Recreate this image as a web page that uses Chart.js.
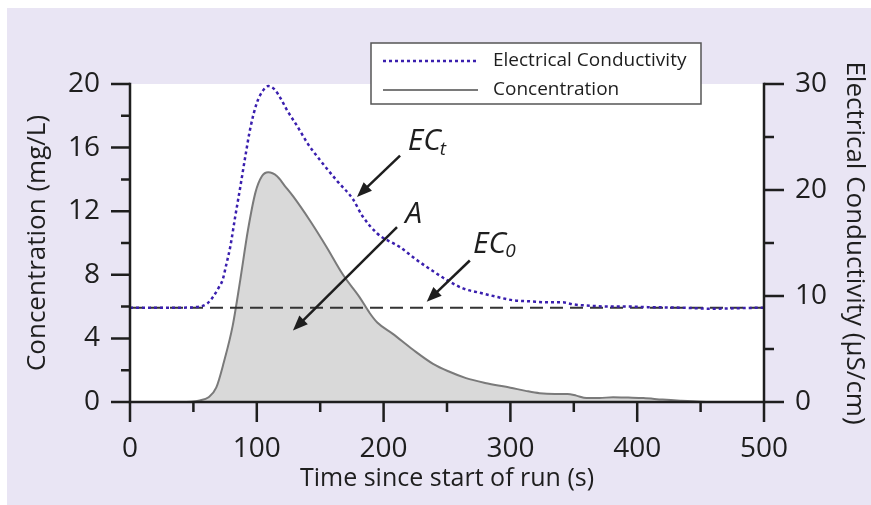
<!DOCTYPE html>
<html><head><meta charset="utf-8">
<script src="https://cdn.jsdelivr.net/npm/chart.js@4/dist/chart.umd.min.js"></script>
<style>html,body{margin:0;padding:0;background:#fff}canvas{display:block}</style>
</head><body>
<canvas id="c" width="871" height="505"></canvas>
<script>
// ---- data ----
const concTime   = [0, 40, 55, 62, 68, 74, 81, 87, 93, 99, 104, 109, 116, 122, 129, 142, 155, 168, 181, 189, 195, 207, 223, 239, 252, 265, 280, 300, 312, 323, 335, 345, 352, 360, 370, 381, 393, 405, 420, 434, 450, 470, 500];
const concValues = [0, 0, 0.1, 0.3, 0.9, 2.5, 4.8, 7.7, 10.8, 13.2, 14.2, 14.45, 14.2, 13.6, 12.9, 11.4, 9.75, 8.0, 6.6, 5.6, 5.0, 4.3, 3.3, 2.4, 1.9, 1.5, 1.2, 0.9, 0.7, 0.55, 0.5, 0.5, 0.4, 0.25, 0.25, 0.3, 0.28, 0.25, 0.15, 0.08, 0.02, 0, 0];
const ecTime   = [0, 40, 55, 61, 66, 70, 73, 76, 79, 83, 87, 91, 95, 100, 105, 109, 114, 119, 124, 132, 140, 150, 163, 176, 183, 195, 213, 225, 237, 250, 263, 276, 290, 302, 315, 330, 341, 350, 360, 380, 394, 408, 434, 460, 480, 500];
const ecValues = [8.9, 8.9, 9.0, 9.3, 10.0, 10.8, 11.5, 13.0, 14.6, 17.5, 20.3, 23.2, 25.9, 28.2, 29.4, 29.8, 29.5, 28.6, 27.5, 26.0, 24.4, 22.8, 20.9, 19.1, 17.6, 15.9, 14.6, 13.5, 12.5, 11.5, 10.7, 10.3, 9.9, 9.6, 9.5, 9.4, 9.4, 9.2, 9.1, 9.0, 9.0, 8.95, 8.9, 8.8, 8.85, 8.9];
const ecBaseline = 8.9;          // EC0, µS/cm
const baselineTime = [0, 500];

const concTickStep = 4,  concMinorStep = 2,  concMin = 0, concMax = 20;
const ecTickStep = 10,   ecMinorStep = 5,    ecMin = 0,   ecMax = 30;
const timeTickStep = 100, timeMinorStep = 50, timeMin = 0, timeMax = 500;

const seriesLabels = ['Electrical Conductivity', 'Concentration'];
const axisTitles = {x: 'Time since start of run (s)', y: 'Concentration (mg/L)', y1: 'Electrical Conductivity (µS/cm)'};

// annotation labels in data units (time, concentration axis)
const notes = [
  {text: 'EC', sub: 't', t: 219, c: 16.4, from: [213, 15.5], to: [179, 12.9]},
  {text: 'A',            t: 217, c: 11.8, from: [210.6, 11.0], to: [128.5, 4.5]},
  {text: 'EC', sub: '0', t: 270.5, c: 9.94, from: [268, 8.9], to: [234, 6.3]}
];

const FONT = '"Open Sans", "Noto Sans", sans-serif';
const INK = '#1e1e1e';
const EC_COLOR = '#3a1fae';
const CONC_LINE = '#7a7a7a';
const CONC_FILL = '#d9d9d9';
const BG = '#e9e5f4';

const toXY = (xs, ys) => xs.map((x, i) => ({x, y: ys[i]}));

const bgPlugin = {
  id: 'bg',
  beforeDraw(chart) {
    const {ctx, chartArea: ca, width, height} = chart;
    ctx.save();
    ctx.fillStyle = '#ffffff'; ctx.fillRect(0, 0, width, height);
    ctx.fillStyle = BG; ctx.fillRect(7, 8, width - 7, height - 8);
    ctx.fillStyle = '#ffffff'; ctx.fillRect(ca.left, ca.top, ca.right - ca.left, ca.bottom - ca.top);
    ctx.restore();
  }
};

function arrow(ctx, x1, y1, x2, y2) {
  const ang = Math.atan2(y2 - y1, x2 - x1);
  const hl = 15, hw = 6;
  const bx = x2 - hl * Math.cos(ang), by = y2 - hl * Math.sin(ang);
  ctx.beginPath(); ctx.moveTo(x1, y1); ctx.lineTo(bx + 2 * Math.cos(ang), by + 2 * Math.sin(ang)); ctx.stroke();
  ctx.beginPath();
  ctx.moveTo(x2, y2);
  ctx.lineTo(bx + hw * Math.sin(ang), by - hw * Math.cos(ang));
  ctx.lineTo(bx - hw * Math.sin(ang), by + hw * Math.cos(ang));
  ctx.closePath(); ctx.fill();
}

const decorPlugin = {
  id: 'decor',
  afterDatasetsDraw(chart) {
    const {ctx, chartArea: ca, scales: {x, y, y1}} = chart;
    ctx.save();
    ctx.strokeStyle = INK; ctx.fillStyle = INK; ctx.lineWidth = 2.5; ctx.lineCap = 'square';
    // axis lines
    ctx.beginPath();
    ctx.moveTo(ca.left, ca.top); ctx.lineTo(ca.left, ca.bottom); ctx.lineTo(ca.right, ca.bottom); ctx.lineTo(ca.right, ca.top);
    ctx.stroke();
    ctx.lineCap = 'butt';
    ctx.beginPath();
    for (let v = concMin; v <= concMax; v += concMinorStep) {
      const p = y.getPixelForValue(v), len = v % concTickStep === 0 ? 19 : 9;
      ctx.moveTo(ca.left, p); ctx.lineTo(ca.left - len, p);
    }
    for (let v = ecMin; v <= ecMax; v += ecMinorStep) {
      const p = y1.getPixelForValue(v), len = v % ecTickStep === 0 ? 20 : 10;
      ctx.moveTo(ca.right, p); ctx.lineTo(ca.right + len, p);
    }
    for (let v = timeMin; v <= timeMax; v += timeMinorStep) {
      const p = x.getPixelForValue(v), len = v % timeTickStep === 0 ? 20 : 10;
      ctx.moveTo(p, ca.bottom); ctx.lineTo(p, ca.bottom + len);
    }
    ctx.stroke();

    // annotations
    ctx.lineWidth = 2.5;
    notes.forEach(n => {
      const px = x.getPixelForValue(n.t), py = y.getPixelForValue(n.c);
      ctx.font = 'italic 30px ' + FONT;
      ctx.textBaseline = 'middle'; ctx.textAlign = 'left';
      ctx.fillText(n.text, px, py);
      if (n.sub) {
        const w = ctx.measureText(n.text).width;
        ctx.font = 'italic 19px ' + FONT;
        ctx.fillText(n.sub, px + w - 1, py + 8);
      }
      arrow(ctx, x.getPixelForValue(n.from[0]), y.getPixelForValue(n.from[1]),
                 x.getPixelForValue(n.to[0]), y.getPixelForValue(n.to[1]));
    });

    // legend box
    const lx = 371, ly = 43, lw = 330, lh = 61;
    ctx.fillStyle = '#ffffff'; ctx.fillRect(lx, ly, lw, lh);
    ctx.strokeStyle = '#555'; ctx.lineWidth = 1.5; ctx.strokeRect(lx, ly, lw, lh);
    const items = [chart.data.datasets[1], chart.data.datasets[0]];
    items.forEach((ds, i) => {
      const cy = ly + 18 + i * 29;
      ctx.save();
      ctx.strokeStyle = ds.borderColor; ctx.lineWidth = ds.borderWidth;
      ctx.setLineDash(ds.borderDash || []);
      ctx.beginPath(); ctx.moveTo(lx + 12, cy); ctx.lineTo(lx + 107, cy); ctx.stroke();
      ctx.restore();
      ctx.fillStyle = INK; ctx.font = '19px ' + FONT; ctx.textBaseline = 'middle'; ctx.textAlign = 'left';
      ctx.fillText(ds.label, lx + 122, cy);
    });
    ctx.restore();
  }
};

new Chart(document.getElementById('c'), {
  type: 'line',
  data: {
    datasets: [
      {label: seriesLabels[1], data: toXY(concTime, concValues), yAxisID: 'y', borderColor: CONC_LINE, borderWidth: 2,
       backgroundColor: CONC_FILL, fill: 'origin', pointRadius: 0, cubicInterpolationMode: 'monotone', order: 3},
      {label: seriesLabels[0], data: toXY(ecTime, ecValues), yAxisID: 'y1', borderColor: EC_COLOR, borderWidth: 2.5,
       borderDash: [3, 3], fill: false, pointRadius: 0, cubicInterpolationMode: 'monotone', order: 1},
      {label: 'EC0', data: toXY(baselineTime, baselineTime.map(() => ecBaseline)), yAxisID: 'y1', borderColor: '#333',
       borderWidth: 2, borderDash: [13, 7], fill: false, pointRadius: 0, order: 2}
    ]
  },
  options: {
    responsive: false, animation: false, devicePixelRatio: 1,
    layout: {padding: {top: 84, left: 0, right: 0, bottom: 0}},
    plugins: {legend: {display: false}, tooltip: {enabled: false}},
    scales: {
      x: {type: 'linear', position: 'bottom', min: timeMin, max: timeMax,
          grid: {display: false, drawTicks: false}, border: {display: false},
          ticks: {stepSize: timeTickStep, padding: 30, color: INK, font: {family: FONT, size: 28}, maxRotation: 0},
          title: {display: true, text: axisTitles.x, color: INK, font: {family: FONT, size: 25}, padding: {top: 0, bottom: 11}},
          afterFit(s) { s.height = 103; }},
      y: {type: 'linear', position: 'left', min: concMin, max: concMax,
          grid: {display: false, drawTicks: false}, border: {display: false},
          ticks: {stepSize: concTickStep, padding: 30, color: INK, font: {family: FONT, size: 28}},
          title: {display: true, text: axisTitles.y, color: INK, font: {family: FONT, size: 26}, padding: {top: 22, bottom: 0}},
          afterFit(s) { s.width = 130; }},
      y1: {type: 'linear', position: 'right', min: ecMin, max: ecMax,
          grid: {display: false, drawTicks: false}, border: {display: false},
          ticks: {stepSize: ecTickStep, padding: 31, color: INK, font: {family: FONT, size: 28}},
          title: {display: true, text: axisTitles.y1, color: INK, font: {family: FONT, size: 26}, padding: {top: 1, bottom: 0}},
          afterFit(s) { s.width = 107; }}
    }
  },
  plugins: [bgPlugin, decorPlugin]
});
</script>
</body></html>
